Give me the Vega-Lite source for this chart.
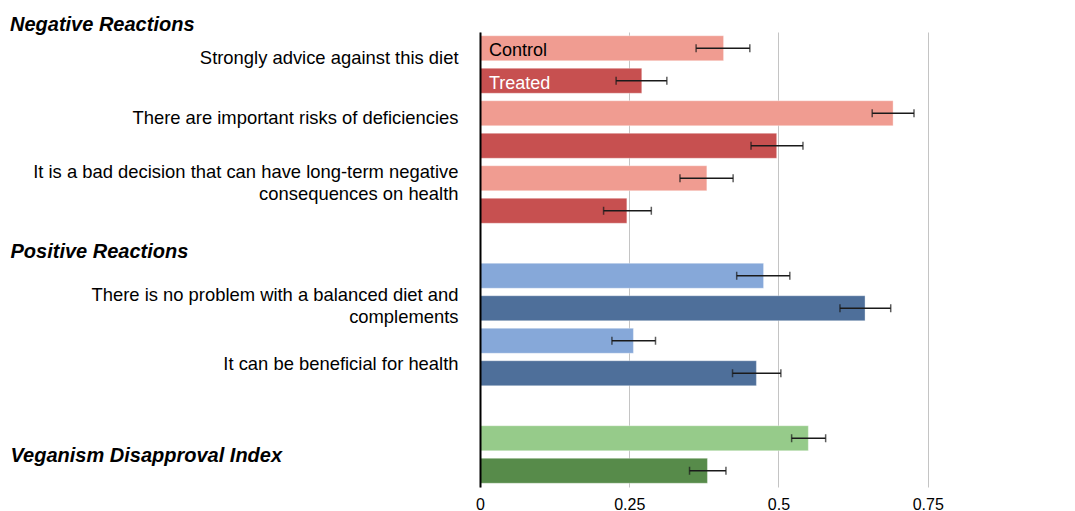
{
  "$schema": "https://vega.github.io/schema/vega-lite/v6.json",
  "width": 591,
  "height": 455,
  "autosize": {"type": "none"},
  "padding": {"left": 480, "top": 32, "right": 4, "bottom": 24},
  "background": "white",
  "title": {
    "text": "Negative Reactions",
    "anchor": "start",
    "frame": "group",
    "dx": -470,
    "dy": 22,
    "offset": 3,
    "baseline": "alphabetic",
    "font": "Liberation Sans",
    "fontSize": 20,
    "fontWeight": "bold",
    "fontStyle": "italic",
    "color": "black"
  },
  "config": {
    "view": {"stroke": null},
    "font": "Liberation Sans"
  },
  "data": {
    "values": [
      {"row": "Strongly advice against this diet|Control", "section": "Negative", "group": "Control", "series": "Negative Control", "value": 0.408, "lo": 0.362, "hi": 0.452},
      {"row": "Strongly advice against this diet|Treated", "section": "Negative", "group": "Treated", "series": "Negative Treated", "value": 0.271, "lo": 0.228, "hi": 0.313},
      {"row": "There are important risks of deficiencies|Control", "section": "Negative", "group": "Control", "series": "Negative Control", "value": 0.692, "lo": 0.657, "hi": 0.727},
      {"row": "There are important risks of deficiencies|Treated", "section": "Negative", "group": "Treated", "series": "Negative Treated", "value": 0.497, "lo": 0.454, "hi": 0.541},
      {"row": "It is a bad decision that can have long-term negative\nconsequences on health|Control", "section": "Negative", "group": "Control", "series": "Negative Control", "value": 0.380, "lo": 0.335, "hi": 0.424},
      {"row": "It is a bad decision that can have long-term negative\nconsequences on health|Treated", "section": "Negative", "group": "Treated", "series": "Negative Treated", "value": 0.246, "lo": 0.207, "hi": 0.287},
      {"row": "There is no problem with a balanced diet and\ncomplements|Control", "section": "Positive", "group": "Control", "series": "Positive Control", "value": 0.475, "lo": 0.430, "hi": 0.519},
      {"row": "There is no problem with a balanced diet and\ncomplements|Treated", "section": "Positive", "group": "Treated", "series": "Positive Treated", "value": 0.645, "lo": 0.603, "hi": 0.688},
      {"row": "It can be beneficial for health|Control", "section": "Positive", "group": "Control", "series": "Positive Control", "value": 0.257, "lo": 0.221, "hi": 0.294},
      {"row": "It can be beneficial for health|Treated", "section": "Positive", "group": "Treated", "series": "Positive Treated", "value": 0.463, "lo": 0.423, "hi": 0.504},
      {"row": "Veganism Disapproval Index|Control", "section": "Index", "group": "Control", "series": "Index Control", "value": 0.550, "lo": 0.522, "hi": 0.579},
      {"row": "Veganism Disapproval Index|Treated", "section": "Index", "group": "Treated", "series": "Index Treated", "value": 0.381, "lo": 0.351, "hi": 0.412}
    ]
  },
  "encoding": {
    "y": {
      "field": "row",
      "type": "nominal",
      "sort": null,
      "scale": {
        "domain": [
          "Strongly advice against this diet|Control",
          "Strongly advice against this diet|Treated",
          "There are important risks of deficiencies|Control",
          "There are important risks of deficiencies|Treated",
          "It is a bad decision that can have long-term negative\nconsequences on health|Control",
          "It is a bad decision that can have long-term negative\nconsequences on health|Treated",
          "Positive Reactions",
          "There is no problem with a balanced diet and\ncomplements|Control",
          "There is no problem with a balanced diet and\ncomplements|Treated",
          "It can be beneficial for health|Control",
          "It can be beneficial for health|Treated",
          " ",
          "Veganism Disapproval Index|Control",
          "Veganism Disapproval Index|Treated"
        ],
        "paddingInner": 0.23,
        "paddingOuter": 0.115
      },
      "axis": {
        "title": null,
        "zindex": 1,
        "domainColor": "black",
        "domainWidth": 2,
        "ticks": false,
        "grid": false,
        "labelColor": "black",
        "labelFont": "Liberation Sans",
        "labelFontSize": {"condition": {"test": "datum.value == 'Positive Reactions' || indexof(datum.value, 'Veganism') == 0", "value": 20}, "value": 18.4},
        "labelFontWeight": {"condition": {"test": "datum.value == 'Positive Reactions' || indexof(datum.value, 'Veganism') == 0", "value": "bold"}, "value": "normal"},
        "labelFontStyle": {"condition": {"test": "datum.value == 'Positive Reactions' || indexof(datum.value, 'Veganism') == 0", "value": "italic"}, "value": "normal"},
        "labelAlign": {"condition": {"test": "datum.value == 'Positive Reactions' || indexof(datum.value, 'Veganism') == 0", "value": "left"}, "value": "right"},
        "labelPadding": {"condition": {"test": "datum.value == 'Positive Reactions' || indexof(datum.value, 'Veganism') == 0", "value": 470}, "value": 22},
        "labelOffset": {
          "condition": [
            {"test": "indexof(datum.value, 'Strongly') == 0", "value": 10},
            {"test": "indexof(datum.value, 'There are') == 0", "value": 5},
            {"test": "indexof(datum.value, 'It is a bad') == 0", "value": -6},
            {"test": "datum.value == 'Positive Reactions'", "value": 9},
            {"test": "indexof(datum.value, 'There is no') == 0", "value": 19},
            {"test": "indexof(datum.value, 'It can be') == 0", "value": 23},
            {"test": "indexof(datum.value, 'Veganism') == 0", "value": 18}
          ],
          "value": 0
        },
        "labelLineHeight": 22,
        "labelLimit": 0,
        "labelExpr": "datum.value == ' ' || indexof(datum.value, '|Treated') >= 0 ? '' : split(replace(datum.value, '|Control', ''), '\\n')"
      }
    }
  },
  "layer": [
    {
      "mark": {"type": "bar", "stroke": "white", "strokeOpacity": 0.35, "strokeWidth": 1},
      "encoding": {
        "x": {
          "field": "value",
          "type": "quantitative",
          "scale": {"domain": [0, 0.99], "nice": false, "zero": true},
          "axis": {
            "title": null,
            "values": [0, 0.25, 0.5, 0.75],
            "labelExpr": "'' + datum.value",
            "labelFlush": false,
            "domain": false,
            "ticks": false,
            "grid": true,
            "gridColor": "#c4c4c4",
            "gridWidth": 1,
            "labelFont": "Liberation Sans",
            "labelFontSize": 16,
            "labelColor": "black",
            "labelPadding": 9,
            "zindex": 0
          }
        },
        "color": {
          "field": "series",
          "type": "nominal",
          "legend": null,
          "scale": {
            "domain": ["Negative Control", "Negative Treated", "Positive Control", "Positive Treated", "Index Control", "Index Treated"],
            "range": ["#f09c91", "#c75050", "#86a8d9", "#4e6f9a", "#96cb8a", "#578b4a"]
          }
        }
      }
    },
    {
      "mark": {"type": "rule", "color": "#1a1a1a", "strokeWidth": 1.5},
      "encoding": {
        "x": {"field": "lo", "type": "quantitative"},
        "x2": {"field": "hi"}
      }
    },
    {
      "mark": {"type": "tick", "color": "#1a1a1a", "thickness": 1.5, "size": 8, "orient": "vertical"},
      "encoding": {
        "x": {"field": "lo", "type": "quantitative"}
      }
    },
    {
      "mark": {"type": "tick", "color": "#1a1a1a", "thickness": 1.5, "size": 8, "orient": "vertical"},
      "encoding": {
        "x": {"field": "hi", "type": "quantitative"}
      }
    },
    {
      "transform": [{"filter": "indexof(datum.row, 'Strongly') == 0"}],
      "mark": {"type": "text", "align": "left", "baseline": "middle", "dx": 9, "dy": 3, "font": "Liberation Sans", "fontSize": 18},
      "encoding": {
        "x": {"datum": 0, "type": "quantitative"},
        "text": {"field": "group"},
        "color": {"condition": {"test": "datum.group == 'Treated'", "value": "white"}, "value": "black"}
      }
    }
  ]
}
